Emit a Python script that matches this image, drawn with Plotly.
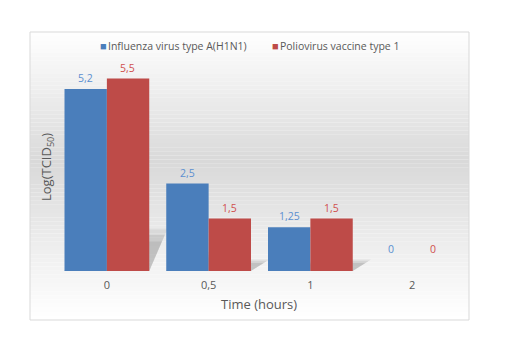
import plotly.graph_objects as go

# Data
categories = ["0", "0,5", "1", "2"]
influenza = [5.2, 2.5, 1.25, 0]
polio = [5.5, 1.5, 1.5, 0]
series_names = ["Influenza virus type A(H1N1)", "Poliovirus vaccine type 1"]

BLUE = "#4a7ebb"
RED = "#be4b48"
BLUE_TXT = "#5b8fd0"
RED_TXT = "#d0504d"
GRAY_TXT = "#595959"
FONT = "Open Sans"

OFF = 8  # page body margin
W, H = 505 - OFF, 357 - OFF
L, R, T, B = 48, 42, 53, 86
pw, ph = W - L - R, H - T - B
BARGAP = 0.167


def px_x(x):  # page pixel -> paper
    return (x - OFF - L) / pw


def px_y(y):
    return (H - B - (y - OFF)) / ph


def fmt(v):
    return ("%g" % v).replace(".", ",")


xs = list(range(len(categories)))

fig = go.Figure()
fig.add_trace(go.Bar(x=xs, y=influenza, name=series_names[0], showlegend=False,
                     marker=dict(color=BLUE, line=dict(width=0))))
fig.add_trace(go.Bar(x=xs, y=polio, name=series_names[1], showlegend=False,
                     marker=dict(color=RED, line=dict(width=0))))

# gradient background of the chart area (stripes)
box_l, box_r, box_t, box_b = 30, 469, 32, 320
n = 70
shapes = []
for i in range(n):
    y0 = box_t + (box_b - box_t) * i / n
    y1 = box_t + (box_b - box_t) * (i + 1) / n
    t = (i + 0.5) / n
    peak = 0.45
    f = t / peak if t < peak else 1 - (t - peak) / (1 - peak)
    g = int(round(255 - 38 * f))
    shapes.append(dict(type="rect", xref="paper", yref="paper",
                       x0=px_x(box_l), x1=px_x(box_r), y0=px_y(y1), y1=px_y(y0),
                       fillcolor="rgb(%d,%d,%d)" % (g, g, g), line=dict(width=0),
                       layer="below"))
shapes.append(dict(type="rect", xref="paper", yref="paper",
                   x0=px_x(box_l), x1=px_x(box_r), y0=px_y(box_b), y1=px_y(box_t),
                   line=dict(color="#d9d9d9", width=1), layer="below"))

# soft cast shadows behind bars (derived from the bar values)
bw = (1 - BARGAP) / 2
skew = 0.18
for vals, side in ((influenza, -1), (polio, 0)):
    for i, v in enumerate(vals):
        if v <= 0:
            continue
        xl = i + side * bw
        xr = xl + bw
        for frac, op in ((1.0, 0.07), (0.85, 0.07), (0.7, 0.07)):
            hh = 0.22 * v * frac
            dx = skew * frac
            path = "M %f,0 L %f,%f L %f,%f L %f,0 Z" % (xl, xl + dx, hh, xr + dx, hh, xr)
            shapes.append(dict(type="path", xref="x", yref="y", path=path,
                               fillcolor="rgba(0,0,0,%g)" % op, line=dict(width=0),
                               layer="below"))

annotations = []
for vals, col, shift in ((influenza, BLUE_TXT, -21), (polio, RED_TXT, 21)):
    for i, v in enumerate(vals):
        annotations.append(dict(x=i, y=v, xref="x", yref="y", text=fmt(v),
                                showarrow=False, xshift=shift, xanchor="center",
                                yshift=(13 if v == 0 else 2), yanchor="bottom",
                                font=dict(family=FONT, size=10.5, color=col)))
annotations.append(dict(x=px_x(47), y=px_y(167), xref="paper", yref="paper",
                        xanchor="center", yanchor="middle",
                        text="Log(TCID<sub>50</sub>)", textangle=-90, showarrow=False,
                        font=dict(family=FONT, size=13, color=GRAY_TXT)))
annotations.append(dict(x=px_x(259), y=px_y(304), xref="paper", yref="paper",
                        xanchor="center", yanchor="middle",
                        text="Time (hours)", showarrow=False,
                        font=dict(family=FONT, size=13, color=GRAY_TXT)))
# legend entries
for name, col, xl in ((series_names[0], BLUE, 98), (series_names[1], RED, 270)):
    annotations.append(dict(x=px_x(xl), y=px_y(45), xref="paper", yref="paper",
                            xanchor="left", yanchor="middle", showarrow=False,
                            text='<span style="color:%s;font-size:11px">■</span>'
                                 '<span style="font-size:5px"> </span>%s' % (col, name),
                            font=dict(family=FONT, size=10.5, color=GRAY_TXT)))

fig.update_layout(
    width=W, height=H,
    margin=dict(l=L, r=R, t=T, b=B),
    paper_bgcolor="white", plot_bgcolor="rgba(0,0,0,0)",
    barmode="group", bargap=BARGAP, bargroupgap=0,
    font=dict(family=FONT, color=GRAY_TXT),
    showlegend=False,
    shapes=shapes,
    annotations=annotations,
    xaxis=dict(range=[-0.5, len(categories) - 0.5], tickmode="array", tickvals=xs,
               ticktext=categories, showgrid=False, showline=False, zeroline=False,
               ticks="", ticklabelstandoff=6,
               tickfont=dict(size=11, color=GRAY_TXT), fixedrange=True),
    yaxis=dict(range=[0, 6], showgrid=False, showline=False, zeroline=False,
               showticklabels=False, ticks="", fixedrange=True),
)

fig.write_html("out.html")
